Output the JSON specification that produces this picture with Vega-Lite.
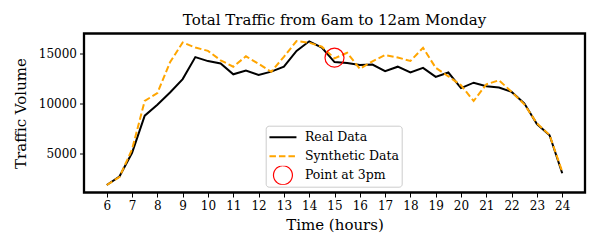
{
  "$schema": "https://vega.github.io/schema/vega-lite/v6.json",
  "width": 501,
  "height": 159,
  "autosize": {"type": "none"},
  "padding": {"left": 84, "top": 33.5, "right": 15, "bottom": 57.5},
  "background": "white",
  "title": {"text": "Total Traffic from 6am to 12am Monday", "font": "DejaVu Serif", "fontSize": 15, "fontWeight": "normal", "color": "black", "anchor": "middle", "offset": 6},
  "datasets": {
    "traffic": [
      {"hour": 6.0, "value": 1830, "series": "Real Data"},
      {"hour": 6.5, "value": 2680, "series": "Real Data"},
      {"hour": 7.0, "value": 5050, "series": "Real Data"},
      {"hour": 7.5, "value": 8760, "series": "Real Data"},
      {"hour": 8.0, "value": 9850, "series": "Real Data"},
      {"hour": 8.5, "value": 11080, "series": "Real Data"},
      {"hour": 9.0, "value": 12420, "series": "Real Data"},
      {"hour": 9.5, "value": 14620, "series": "Real Data"},
      {"hour": 10.0, "value": 14220, "series": "Real Data"},
      {"hour": 10.5, "value": 13980, "series": "Real Data"},
      {"hour": 11.0, "value": 12900, "series": "Real Data"},
      {"hour": 11.5, "value": 13280, "series": "Real Data"},
      {"hour": 12.0, "value": 12840, "series": "Real Data"},
      {"hour": 12.5, "value": 13170, "series": "Real Data"},
      {"hour": 13.0, "value": 13660, "series": "Real Data"},
      {"hour": 13.5, "value": 15240, "series": "Real Data"},
      {"hour": 14.0, "value": 16200, "series": "Real Data"},
      {"hour": 14.5, "value": 15580, "series": "Real Data"},
      {"hour": 15.0, "value": 14120, "series": "Real Data"},
      {"hour": 15.5, "value": 14020, "series": "Real Data"},
      {"hour": 16.0, "value": 13840, "series": "Real Data"},
      {"hour": 16.5, "value": 13880, "series": "Real Data"},
      {"hour": 17.0, "value": 13220, "series": "Real Data"},
      {"hour": 17.5, "value": 13660, "series": "Real Data"},
      {"hour": 18.0, "value": 13080, "series": "Real Data"},
      {"hour": 18.5, "value": 13540, "series": "Real Data"},
      {"hour": 19.0, "value": 12640, "series": "Real Data"},
      {"hour": 19.5, "value": 13080, "series": "Real Data"},
      {"hour": 20.0, "value": 11520, "series": "Real Data"},
      {"hour": 20.5, "value": 12060, "series": "Real Data"},
      {"hour": 21.0, "value": 11700, "series": "Real Data"},
      {"hour": 21.5, "value": 11580, "series": "Real Data"},
      {"hour": 22.0, "value": 11140, "series": "Real Data"},
      {"hour": 22.5, "value": 10000, "series": "Real Data"},
      {"hour": 23.0, "value": 7930, "series": "Real Data"},
      {"hour": 23.5, "value": 6800, "series": "Real Data"},
      {"hour": 24.0, "value": 3000, "series": "Real Data"},
      {"hour": 6.0, "value": 1830, "series": "Synthetic Data"},
      {"hour": 6.5, "value": 2620, "series": "Synthetic Data"},
      {"hour": 7.0, "value": 5400, "series": "Synthetic Data"},
      {"hour": 7.5, "value": 10240, "series": "Synthetic Data"},
      {"hour": 8.0, "value": 11020, "series": "Synthetic Data"},
      {"hour": 8.5, "value": 14100, "series": "Synthetic Data"},
      {"hour": 9.0, "value": 16080, "series": "Synthetic Data"},
      {"hour": 9.5, "value": 15580, "series": "Synthetic Data"},
      {"hour": 10.0, "value": 15240, "series": "Synthetic Data"},
      {"hour": 10.5, "value": 14300, "series": "Synthetic Data"},
      {"hour": 11.0, "value": 13660, "series": "Synthetic Data"},
      {"hour": 11.5, "value": 14700, "series": "Synthetic Data"},
      {"hour": 12.0, "value": 13950, "series": "Synthetic Data"},
      {"hour": 12.5, "value": 13150, "series": "Synthetic Data"},
      {"hour": 13.0, "value": 14650, "series": "Synthetic Data"},
      {"hour": 13.5, "value": 16220, "series": "Synthetic Data"},
      {"hour": 14.0, "value": 16060, "series": "Synthetic Data"},
      {"hour": 14.5, "value": 15660, "series": "Synthetic Data"},
      {"hour": 15.0, "value": 14500, "series": "Synthetic Data"},
      {"hour": 15.5, "value": 15050, "series": "Synthetic Data"},
      {"hour": 16.0, "value": 13450, "series": "Synthetic Data"},
      {"hour": 16.5, "value": 14200, "series": "Synthetic Data"},
      {"hour": 17.0, "value": 14830, "series": "Synthetic Data"},
      {"hour": 17.5, "value": 14580, "series": "Synthetic Data"},
      {"hour": 18.0, "value": 14230, "series": "Synthetic Data"},
      {"hour": 18.5, "value": 15550, "series": "Synthetic Data"},
      {"hour": 19.0, "value": 13550, "series": "Synthetic Data"},
      {"hour": 19.5, "value": 12700, "series": "Synthetic Data"},
      {"hour": 20.0, "value": 11800, "series": "Synthetic Data"},
      {"hour": 20.5, "value": 10230, "series": "Synthetic Data"},
      {"hour": 21.0, "value": 11900, "series": "Synthetic Data"},
      {"hour": 21.5, "value": 12300, "series": "Synthetic Data"},
      {"hour": 22.0, "value": 11150, "series": "Synthetic Data"},
      {"hour": 22.5, "value": 9900, "series": "Synthetic Data"},
      {"hour": 23.0, "value": 8000, "series": "Synthetic Data"},
      {"hour": 23.5, "value": 6830, "series": "Synthetic Data"},
      {"hour": 24.0, "value": 3160, "series": "Synthetic Data"},
      {"hour": 15.0, "value": 14560, "series": "Point at 3pm"}
    ]
  },
  "data": {"name": "traffic"},
  "encoding": {
    "x": {
      "field": "hour", "type": "quantitative",
      "scale": {"domain": [5.1, 24.9], "nice": false, "zero": false},
      "axis": {"values": [6,7,8,9,10,11,12,13,14,15,16,17,18,19,20,21,22,23,24], "title": "Time (hours)", "format": "d"}
    },
    "y": {
      "field": "value", "type": "quantitative",
      "scale": {"domain": [1080, 16980], "nice": false, "zero": false},
      "axis": {"values": [5000, 10000, 15000], "title": "Traffic Volume", "format": "d"}
    },
    "color": {
      "field": "series", "type": "nominal",
      "scale": {"domain": ["Real Data", "Synthetic Data", "Point at 3pm"], "range": ["black", "orange", "red"]},
      "legend": {
        "title": null,
        "orient": "none",
        "legendX": 181.7,
        "legendY": 92.2,
        "symbolType": "M-1.5,0H1.5",
        "symbolSize": 324,
        "symbolOffset": 9,
        "labelOffset": 15.7,
        "clipHeight": 19,
        "encode": {
          "symbols": {
            "update": {
              "shape": {"signal": "datum.label === 'Point at 3pm' ? 'M1.05,0A1.05,1.05,0,1,1,-1.05,0A1.05,1.05,0,1,1,1.05,0Z' : 'M-1.5,0H1.5'"},
              "strokeDash": {"signal": "datum.label === 'Synthetic Data' ? [6.5, 3] : [1, 0]"},
              "strokeWidth": {"signal": "datum.label === 'Point at 3pm' ? 1.2 : 2"},
              "fill": {"value": "transparent"},
              "fillOpacity": {"value": 0},
              "stroke": {"signal": "scale('color', datum.value)"}
            }
          }
        }
      }
    }
  },
  "layer": [
    {
      "transform": [{"filter": "datum.series === 'Real Data'"}],
      "mark": {"type": "line", "strokeWidth": 2}
    },
    {
      "transform": [{"filter": "datum.series === 'Synthetic Data'"}],
      "mark": {"type": "line", "strokeWidth": 2, "strokeDash": [6.5, 3]}
    },
    {
      "transform": [{"filter": "datum.series === 'Point at 3pm'"}],
      "mark": {"type": "point", "shape": "circle", "filled": false, "size": 361, "strokeWidth": 1.2, "opacity": 1}
    }
  ],
  "config": {
    "view": {"stroke": "black", "strokeWidth": 2.3, "fill": "white"},
    "axis": {
      "domain": false, "grid": false,
      "labelFont": "DejaVu Serif", "labelFontSize": 12, "labelColor": "black",
      "tickColor": "black", "tickSize": 4.5, "tickWidth": 1,
      "labelPadding": 3,
      "titleFont": "DejaVu Serif", "titleFontSize": 15, "titleFontWeight": "normal", "titleColor": "black"
    },
    "axisX": {"titlePadding": 6, "labelFlush": false},
    "axisY": {"titlePadding": 10},
    "legend": {
      "labelFont": "DejaVu Serif", "labelFontSize": 12.5, "labelColor": "black",
      "strokeColor": "#cccccc", "fillColor": "rgba(255,255,255,0.8)",
      "cornerRadius": 3, "padding": 2, "rowPadding": 0
    }
  }
}
